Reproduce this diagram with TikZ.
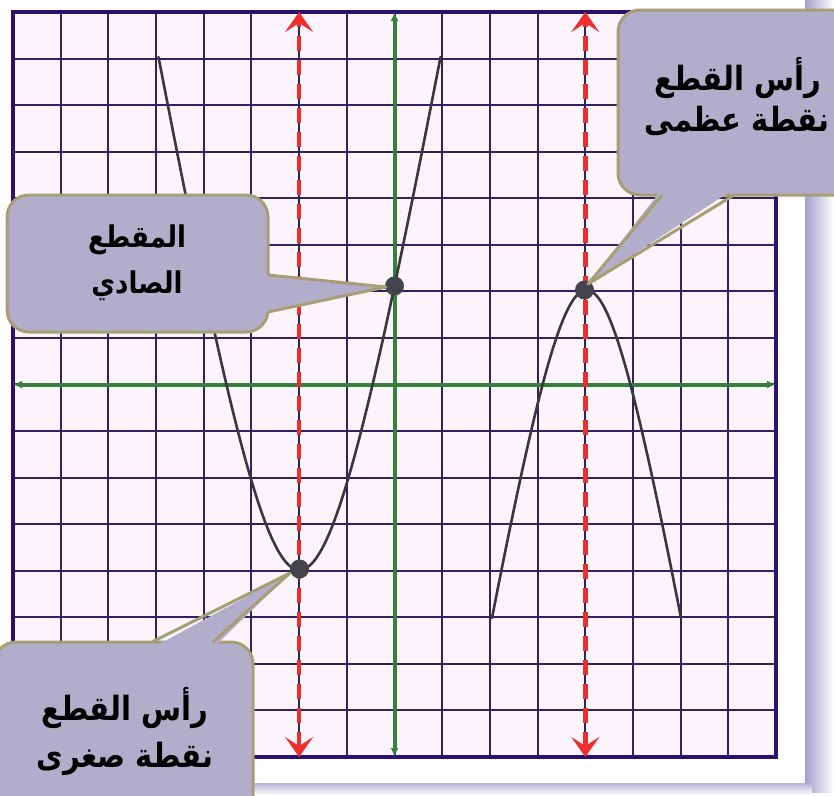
\documentclass[tikz,border=0pt]{standalone}
\usepackage{graphicx}
\usepackage{fontspec}
\newfontfamily\arabicfont[Script=Arabic]{DejaVu Sans}
\TeXXeTstate=1
\usetikzlibrary{arrows.meta}
\definecolor{gridline}{RGB}{52,32,92}
\definecolor{gridborder}{RGB}{44,16,112}
\definecolor{gridbg}{RGB}{251,245,251}
\definecolor{axisgreen}{RGB}{55,128,60}
\definecolor{dashred}{RGB}{240,45,45}
\definecolor{calloutfill}{RGB}{178,173,202}
\definecolor{calloutedge}{RGB}{168,158,118}
\definecolor{curvegray}{RGB}{55,55,62}
\definecolor{dotgray}{RGB}{68,68,76}
\definecolor{shadowcol}{RGB}{165,160,205}
\tikzset{
  gridln/.style={gridline, line width=2pt},
  axisln/.style={axisgreen, line width=4pt, {Latex[length=9pt,width=8pt]}-{Latex[length=9pt,width=8pt]}},
  symln/.style={dashred, line width=4.5pt, dash pattern=on 15pt off 9pt,
     {Stealth[length=20pt,width=28pt,inset=9pt]}-{Stealth[length=20pt,width=28pt,inset=9pt]}},
  curveln/.style={curvegray, line width=2.6pt, line join=round, line cap=round},
  dotst/.style={fill=dotgray},
  boxst/.style={fill=calloutfill, draw=calloutedge, line width=3pt, rounded corners=22pt},
  ptrfill/.style={fill=calloutfill},
  ptredge/.style={draw=calloutedge, line width=3pt, line join=round},
  ctext/.style={text=black, inner sep=0pt, anchor=base},
  smallar/.style={font=\arabicfont\bfseries\fontsize{26}{30}\selectfont},
  bigar/.style={font=\arabicfont\bfseries\fontsize{29}{34}\selectfont},
}
\newcommand{\artext}[1]{\scalebox{1}[1.15]{\beginR #1\endR}}
\begin{document}
\begin{tikzpicture}[x=1pt,y=-1pt]
\useasboundingbox (0,0) rectangle (834,795);
\clip (0,0) rectangle (834,795);
\fill[white] (0,0) rectangle (834,795);
% frame shadow
\shade[left color=shadowcol, right color=white] (805,0) rectangle (834,792);
\shade[top color=shadowcol!80, bottom color=white] (0,783) rectangle (812,795);
\fill[white] (0,0) rectangle (805,783);
% grid
\fill[gridbg] (13,12) rectangle (776,757);
\foreach \i in {1,...,15} \draw[gridln] ({13+\i*47.69},12) -- ({13+\i*47.69},757);
\foreach \j in {1,...,15} \draw[gridln] (13,{12+\j*46.56}) -- (776,{12+\j*46.56});
\draw[gridborder, line width=3.6pt] (13,12) rectangle (776,757);
% coordinates
\coordinate (xl) at (13,384.5);
\coordinate (xr) at (776,384.5);
\coordinate (yt) at (394.5,12);
\coordinate (yb) at (394.5,757);
\coordinate (s1t) at (299.1,12);
\coordinate (s1b) at (299.1,757);
\coordinate (s2t) at (585.3,12);
\coordinate (s2b) at (585.3,757);
% axes
\draw[axisln] (xl) -- (xr);
\draw[axisln] (yb) -- (yt);
% axes of symmetry
\draw[symln] (s1b) -- (s1t);
\draw[symln] (s2b) -- (s2t);
% parabolas
\draw[curveln] plot[domain=-1.41:1.41, samples=121, variable=\u]
  ({299.5+100*\u}, {570-16.415*(10*sqrt(5.35+12.184*\u*\u)-23.13)});
\draw[curveln] plot[domain=-0.945:0.945, samples=101, variable=\u]
  ({586.5+100*\u}, {290+17.077*(10*sqrt(3.105+11.712*\u*\u)-17.62)});
% points
\coordinate (yint) at (394.5,286);
\coordinate (vmin) at (299.5,569);
\coordinate (vmax) at (584.5,290);
\fill[dotst] (yint) circle (9.5);
\fill[dotst] (vmin) circle (9.5);
\fill[dotst] (vmax) circle (9.5);
% callout 1 : y-intercept
\coordinate (p1a) at (268,275);
\coordinate (p1b) at (268,312);
\coordinate (p1t) at (386,287);
\draw[boxst] (7,195) rectangle (268,332);
\fill[ptrfill] (262,275) -- (p1t) -- (262,312) -- cycle;
\draw[ptredge] (p1a) -- (p1t) -- (p1b);
\node[ctext, smallar] (c1a) at (137,247) {\artext{المقطع}};
\node[ctext, smallar] (c1b) at (137,293) {\artext{الصادي}};
% callout 2 : maximum
\coordinate (p2a) at (662,195);
\coordinate (p2b) at (734,195);
\coordinate (p2t) at (588,284);
\draw[boxst] (618,10) rectangle (1000,195);
\fill[ptrfill] (662,189) -- (p2t) -- (734,189) -- cycle;
\draw[ptredge] (p2a) -- (p2t) -- (p2b);
\node[ctext, bigar] (c2a) at (738,90) {\artext{رأس القطع}};
\node[ctext, bigar] (c2b) at (737,131) {\artext{نقطة عظمى}};
% callout 3 : minimum
\coordinate (p3a) at (152,642);
\coordinate (p3b) at (213,642);
\coordinate (p3t) at (290,573);
\draw[boxst] (-6,642) rectangle (253,900);
\fill[ptrfill] (152,648) -- (p3t) -- (213,648) -- cycle;
\draw[ptredge] (p3a) -- (p3t) -- (p3b);
\node[ctext, bigar] (c3a) at (125,720) {\artext{رأس القطع}};
\node[ctext, bigar] (c3b) at (125,767) {\artext{نقطة صغرى}};
\end{tikzpicture}
\end{document}
